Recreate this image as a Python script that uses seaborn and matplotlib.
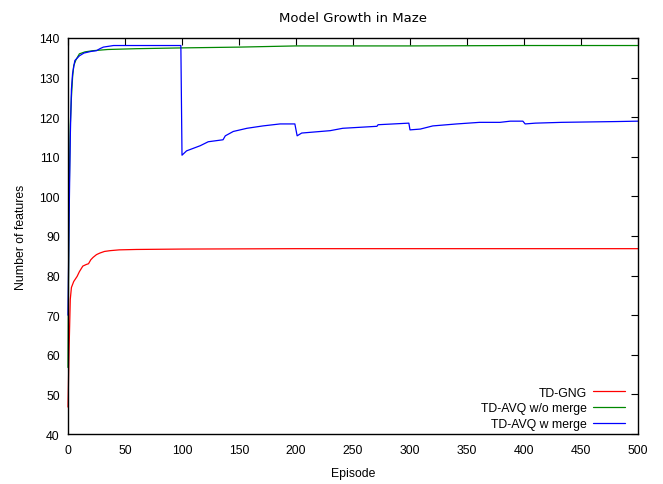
import matplotlib
matplotlib.use("Agg")
import matplotlib.pyplot as plt
import numpy as np
import pandas as pd
import seaborn as sns

# values
gng_ep = [0, 1, 2, 3, 5, 8, 10, 13, 16, 18, 20, 22, 25, 28, 32, 37, 45, 60, 100, 200, 300, 500]
gng_val = [46.8, 62.0, 74.0, 77.0, 78.5, 79.8, 81.0, 82.4, 82.8, 83.0, 84.0, 84.6, 85.3, 85.7, 86.1,
           86.3, 86.5, 86.6, 86.7, 86.8, 86.8, 86.8]

nomerge_ep = [0, 0.5, 1, 2, 3, 4, 5, 7, 10, 15, 22, 35, 60, 100, 150, 200, 300, 400, 500]
nomerge_val = [56.8, 80.0, 100.0, 118.0, 125.0, 130.0, 133.0, 134.5, 136.0, 136.5, 136.8, 137.1,
               137.3, 137.5, 137.7, 138.0, 138.0, 138.1, 138.1]

merge_ep = [0, 1, 2, 3, 4, 6, 10, 14, 20, 25, 28, 31, 40, 99,
            100, 104, 116, 123, 136, 138, 145, 157, 171, 186, 199,
            201, 205, 230, 241, 271, 272, 299,
            300, 309, 320, 341, 361, 379, 388, 399,
            401, 410, 433, 481, 500]
merge_val = [70.0, 95.0, 115.0, 127.0, 131.0, 134.3, 135.5, 136.2, 136.6, 136.8, 137.3, 137.7, 138.1, 138.1,
             110.4, 111.5, 112.8, 113.8, 114.3, 115.3, 116.4, 117.2, 117.8, 118.3, 118.3,
             115.3, 116.0, 116.6, 117.2, 117.7, 118.1, 118.5,
             116.8, 117.0, 117.8, 118.3, 118.7, 118.7, 119.0, 119.0,
             118.3, 118.5, 118.7, 118.9, 119.0]

labels = ["TD-GNG", "TD-AVQ w/o merge", "TD-AVQ w merge"]
colors = ["#ff0000", "#008800", "#0000ff"]

df = pd.concat([
    pd.DataFrame({"Episode": gng_ep, "Features": gng_val, "Method": labels[0]}),
    pd.DataFrame({"Episode": nomerge_ep, "Features": nomerge_val, "Method": labels[1]}),
    pd.DataFrame({"Episode": merge_ep, "Features": merge_val, "Method": labels[2]}),
], ignore_index=True)

sns.set_style("white")
plt.rcParams["font.family"] = ["Liberation Sans", "DejaVu Sans"]
plt.rcParams["text.color"] = "black"
plt.rcParams["axes.labelcolor"] = "black"

fig = plt.figure(figsize=(6.63, 4.85), dpi=100)
ax = fig.add_axes([68 / 663, 1 - 435 / 485, 570 / 663, 396 / 485])

sns.lineplot(data=df, x="Episode", y="Features", hue="Method", hue_order=labels,
             palette=colors, linewidth=0.9, estimator=None, sort=False, ax=ax,
             clip_on=False)

ax.set_xlim(0, 500)
ax.set_ylim(40, 140)
ax.set_xticks(np.arange(0, 501, 50))
ax.set_yticks(np.arange(40, 141, 10))
ax.tick_params(direction="in", length=5, width=0.8, top=True, right=True,
               labelsize=8.8, colors="black")
ax.tick_params(axis="x", pad=7)
ax.tick_params(axis="y", pad=6)
for s in ax.spines.values():
    s.set_color("black")
    s.set_linewidth(1.0)

ax.set_xlabel("Episode", fontsize=8.8, labelpad=8)
ax.set_ylabel("Number of features", fontsize=8.8, labelpad=9)
ax.set_title("Model Growth in Maze", fontsize=9.5, family="DejaVu Sans", pad=12)

leg = ax.legend(loc="lower right", bbox_to_anchor=(0.977, 0.01), frameon=False, fontsize=8.8,
                markerfirst=False, handlelength=2.6, handletextpad=0.5, labelspacing=0.3,
                borderpad=0, borderaxespad=0)
for t in leg.get_texts():
    t.set_color("black")

fig.savefig("out.png", dpi=100)
